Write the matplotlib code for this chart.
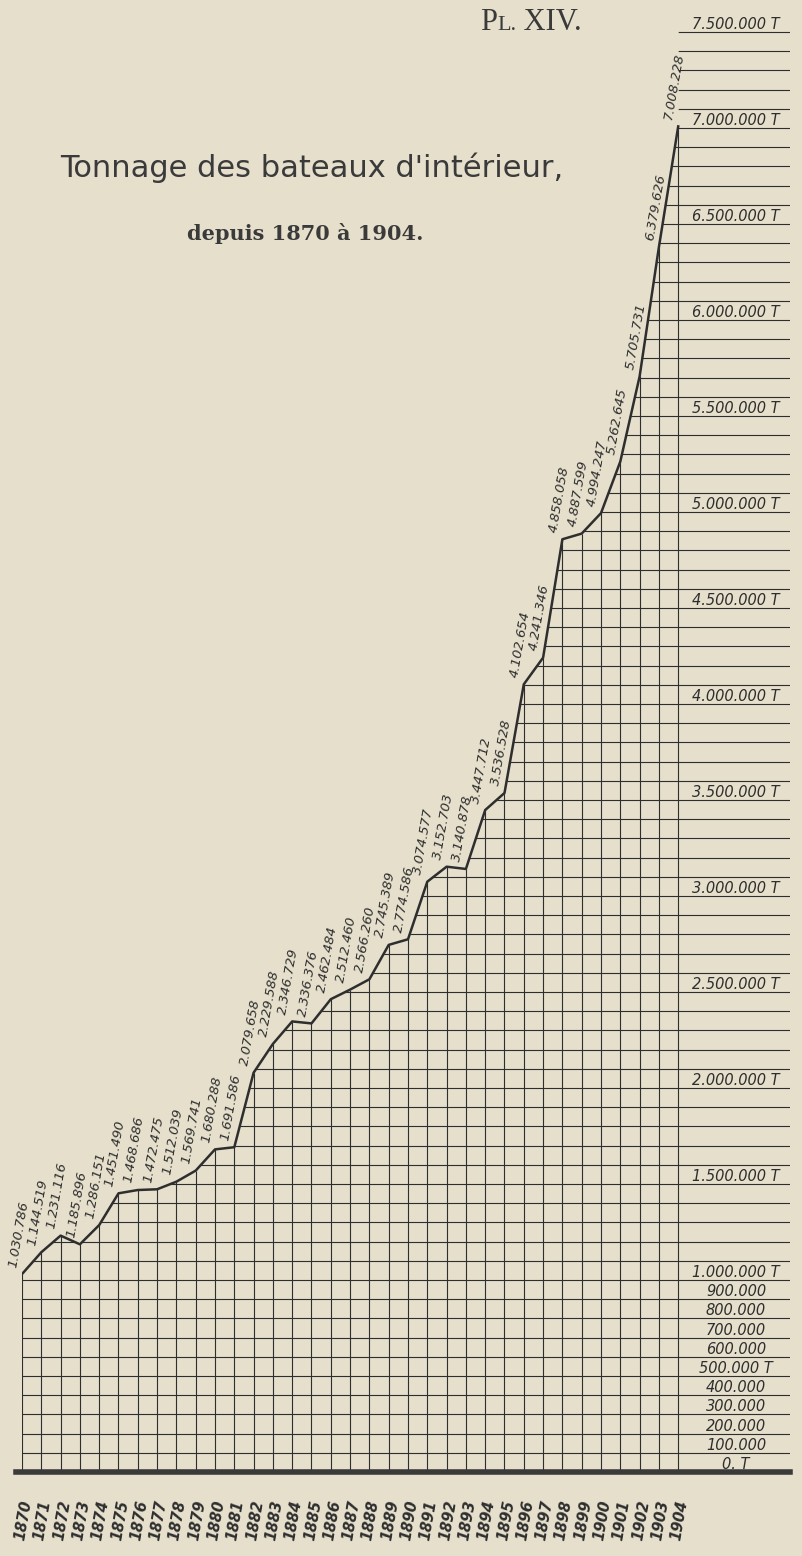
# Tonnage des bateaux d'interieur, 1870-1904 (Pl. XIV)
import numpy as np
import matplotlib
matplotlib.use('Agg')
import matplotlib.pyplot as plt

# DONNEES
annees = list(range(1870, 1905))
tonnage = [1030786, 1144519, 1231116, 1185896, 1286151, 1451490, 1468686,
           1472475, 1512039, 1569741, 1680288, 1691586, 2079658, 2229588,
           2346729, 2336376, 2462484, 2512460, 2566260, 2745389, 2774586,
           3074577, 3152703, 3140878, 3447712, 3536528, 4102654, 4241346,
           4858058, 4887599, 4994247, 5262645, 5705731, 6379626, 7008228]
etiquettes = ['1.030.786', '1.144.519', '1.231.116', '1.185.896', '1.286.151',
              '1.451.490', '1.468.686', '1.472.475', '1.512.039', '1.569.741',
              '1.680.288', '1.691.586', '2.079.658', '2.229.588', '2.346.729',
              '2.336.376', '2.462.484', '2.512.460', '2.566.260', '2.745.389',
              '2.774.586', '3.074.577', '3.152.703', '3.140.878', '3.447.712',
              '3.536.528', '4.102.654', '4.241.346', '4.858.058', '4.887.599',
              '4.994.247', '5.262.645', '5.705.731', '6.379.626', '7.008.228']
# echelle a droite
echelle_val = [7500000, 7000000, 6500000, 6000000, 5500000, 5000000, 4500000,
               4000000, 3500000, 3000000, 2500000, 2000000, 1500000, 1000000,
               900000, 800000, 700000, 600000, 500000, 400000, 300000,
               200000, 100000, 0]
echelle_txt = ['7.500.000 T', '7.000.000 T', '6.500.000 T', '6.000.000 T',
               '5.500.000 T', '5.000.000 T', '4.500.000 T', '4.000.000 T',
               '3.500.000 T', '3.000.000 T', '2.500.000 T', '2.000.000 T',
               '1.500.000 T', '1.000.000 T', '900.000', '800.000', '700.000',
               '600.000', '500.000 T', '400.000', '300.000', '200.000',
               '100.000', '0. T']

papier = '#e5dfcc'
encre = '#2e2e2e'

W, H = 803, 1556
fig = plt.figure(figsize=(W/100, H/100), dpi=100)
fig.patch.set_facecolor(papier)

# axe: 1870 a x=22px, 19.3 px par an; 0 T a y=1472px, 192 px par million
x0, y0 = 22, 1472
pxan, pxM = 19.3, 192.0
xmax = 1870 + (790 - x0)/pxan
ymax = y0/pxM*1e6
ax = fig.add_axes([x0/W, (H - y0)/H, (790 - x0)/W, y0/H])
ax.set_facecolor(papier)
ax.set_xlim(1870, xmax)
ax.set_ylim(0, ymax)
ax.axis('off')

# quadrillage (100.000 T)
niveaux = np.arange(100000, 7500001, 100000)
ax.hlines(niveaux, 1870, xmax, colors=encre, lw=0.8, zorder=1)
ax.vlines(annees, 0, tonnage, colors=encre, lw=0.8, zorder=1)
# on efface au dessus de la courbe
xs = [1869.5] + annees
ys = [tonnage[0]] + tonnage
ax.fill_between(xs, ys, ymax, color=papier, lw=0, zorder=2)
ax.plot(annees, tonnage, color=encre, lw=1.8, zorder=3)
ax.plot([1869.7, xmax], [0, 0], color='#3a3a3a', lw=4, zorder=4, clip_on=False)

# valeurs sur la courbe
for a, v, t in zip(annees, tonnage, etiquettes):
    ax.annotate(t, (a, v), xytext=(-3, 6), textcoords='offset pixels',
                rotation=80, rotation_mode='anchor', ha='left', va='bottom',
                fontsize=9.5, style='italic', color=encre, zorder=5,
                annotation_clip=False)

# annees en bas
for a in annees:
    ax.annotate(str(a), (a, 0), xytext=(5, -28), textcoords='offset pixels',
                rotation=80, rotation_mode='anchor', ha='right', va='center',
                fontsize=10.5, fontweight='bold', style='italic', color=encre,
                annotation_clip=False)

# echelle a droite
xe = 1870 + (736 - x0)/pxan
for v, t in zip(echelle_val, echelle_txt):
    ax.text(xe, v, t, ha='center', va='bottom', fontsize=10.5,
            style='italic', color=encre, zorder=5)

# titres
fig.text(312/W, 1 - 168/H, "Tonnage des bateaux d'intérieur,", ha='center',
         va='center', fontsize=22, color='#3a3a3a')
fig.text(305/W, 1 - 234/H, 'depuis 1870 à 1904.', ha='center', va='center',
         fontsize=15, fontweight='bold', color='#3a3a3a', family='DejaVu Serif')

# Pl. XIV. en petites capitales
r = fig.canvas.get_renderer()
xp = 480
for morceau, taille in [('P', 22), ('L.', 16), (' XIV.', 22)]:
    t = fig.text(xp/W, 1 - 30/H, morceau, ha='left', va='baseline',
                 fontsize=taille, color='#3a3a3a', family='Liberation Serif')
    xp += t.get_window_extent(r).width

plt.savefig('out.png', dpi=100, facecolor=papier)
